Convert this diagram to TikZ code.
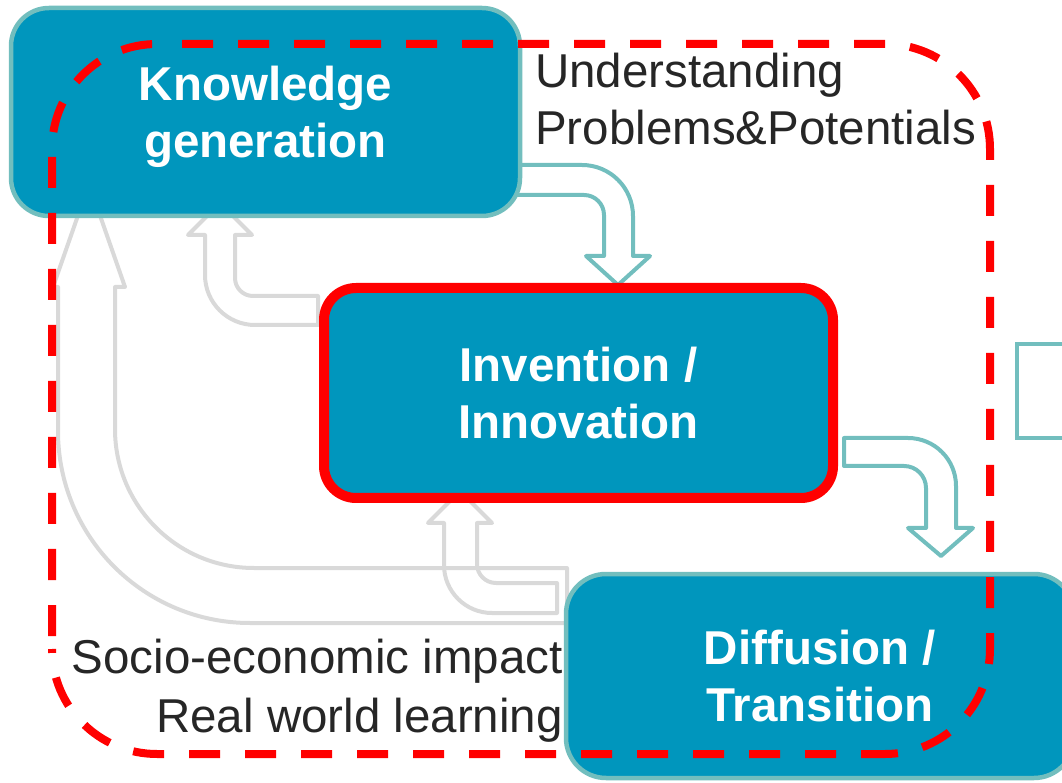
\documentclass[tikz,border=0pt]{standalone}
\usepackage{fontspec}
\setmainfont{Liberation Sans}
\definecolor{boxfill}{HTML}{0096BD}
\definecolor{tealline}{HTML}{72BEBE}
\definecolor{grayline}{HTML}{D9D9D9}
\definecolor{redline}{HTML}{FF0000}
\definecolor{textdark}{HTML}{262626}
\tikzset{
  stagebox/.style={draw=tealline, line width=4.5pt, fill=boxfill, rounded corners=38pt,
    inner sep=0pt, text=white, font=\fontsize{47.5}{57}\selectfont\bfseries,
    align=center, text depth=0pt},
  lbl/.style={font=\fontsize{47.5}{57}\selectfont, text=textdark, inner sep=0pt},
  grayarrow/.style={draw=grayline, line width=4pt, line join=round},
  tealarrow/.style={draw=tealline, line width=4pt, line join=round},
  reddash/.style={draw=redline, line width=8pt, dash pattern=on 31pt off 25pt}
}
\begin{document}
\begin{tikzpicture}[x=1pt,y=1pt]
\useasboundingbox (0,0) rectangle (1062,782);
\clip (0,0) rectangle (1062,782);
% grey feedback arrows
\draw[grayarrow] (567,214) -- (254,214) arc[start angle=270,end angle=180,radius=139]
  -- (115,495) -- (125,495) -- (89,598) -- (53,495) -- (58,495) -- (58,351)
  arc[start angle=180,end angle=270,radius=192] -- (567,159) -- cycle;
\draw[grayarrow] (318,486) -- (253,486) arc[start angle=270,end angle=180,radius=18]
  -- (235,547) -- (252,547) -- (220,579) -- (188,547) -- (205,547) -- (205,507)
  arc[start angle=180,end angle=270,radius=50] -- (318,457) -- cycle;
\draw[grayarrow] (557,199) -- (496,199) arc[start angle=270,end angle=180,radius=19]
  -- (477,259) -- (492,259) -- (460,291) -- (428,259) -- (444,259) -- (444,217)
  arc[start angle=180,end angle=270,radius=48] -- (557,169) -- cycle;
% teal forward arrows
\draw[tealarrow] (515,617) -- (582,617) arc[start angle=90,end angle=0,radius=51]
  -- (633,526) -- (650,526) -- (618,497) -- (586,526) -- (604,526) -- (604,567)
  arc[start angle=0,end angle=90,radius=20] -- (515,587) -- cycle;
\draw[tealarrow] (844,344) -- (908,344) arc[start angle=90,end angle=0,radius=48]
  -- (956,254) -- (973,254) -- (941,226) -- (908,254) -- (926,254) -- (926,294)
  arc[start angle=0,end angle=90,radius=22] -- (844,316) -- cycle;
% boxes
\node[stagebox, minimum width=509pt, minimum height=208pt] (know) at (265.5,670) {Knowledge\\generation};
\node[stagebox, draw=redline, line width=10pt, rounded corners=32pt, minimum width=509pt, minimum height=210pt] (inv) at (578.5,389) {Invention /\\Innovation};
\node[stagebox, rounded corners=40pt, minimum width=508pt, minimum height=204pt] (diff) at (820,106) {Diffusion /\\Transition};
\node[draw=tealline, line width=4pt, fill=white, inner sep=0pt, minimum width=73pt, minimum height=94pt] (next) at (1053.5,391) {};
% labels
\node[lbl, anchor=base west] (und) at (535,694) {Understanding};
\node[lbl, anchor=base west] (prob) at (535,637) {Problems\&Potentials};
\node[lbl, anchor=base east] (socio) at (563,109) {Socio-economic impact};
\node[lbl, anchor=base east] (real) at (563,50) {Real world learning};
% red dashed boundary (one side + corner per piece)
\draw[reddash, dash phase=31pt] (157,738) -- (885,738) arc[start angle=90,end angle=0,radius=105];
\draw[reddash, dash phase=20pt] (990,633) -- (990,133) arc[start angle=0,end angle=-90,radius=105];
\draw[reddash, dash phase=7pt] (885,28) -- (157,28) arc[start angle=270,end angle=180,radius=105];
\draw[reddash, dash phase=43pt] (52,133) -- (52,633) arc[start angle=180,end angle=90,radius=105];
\end{tikzpicture}
\end{document}
